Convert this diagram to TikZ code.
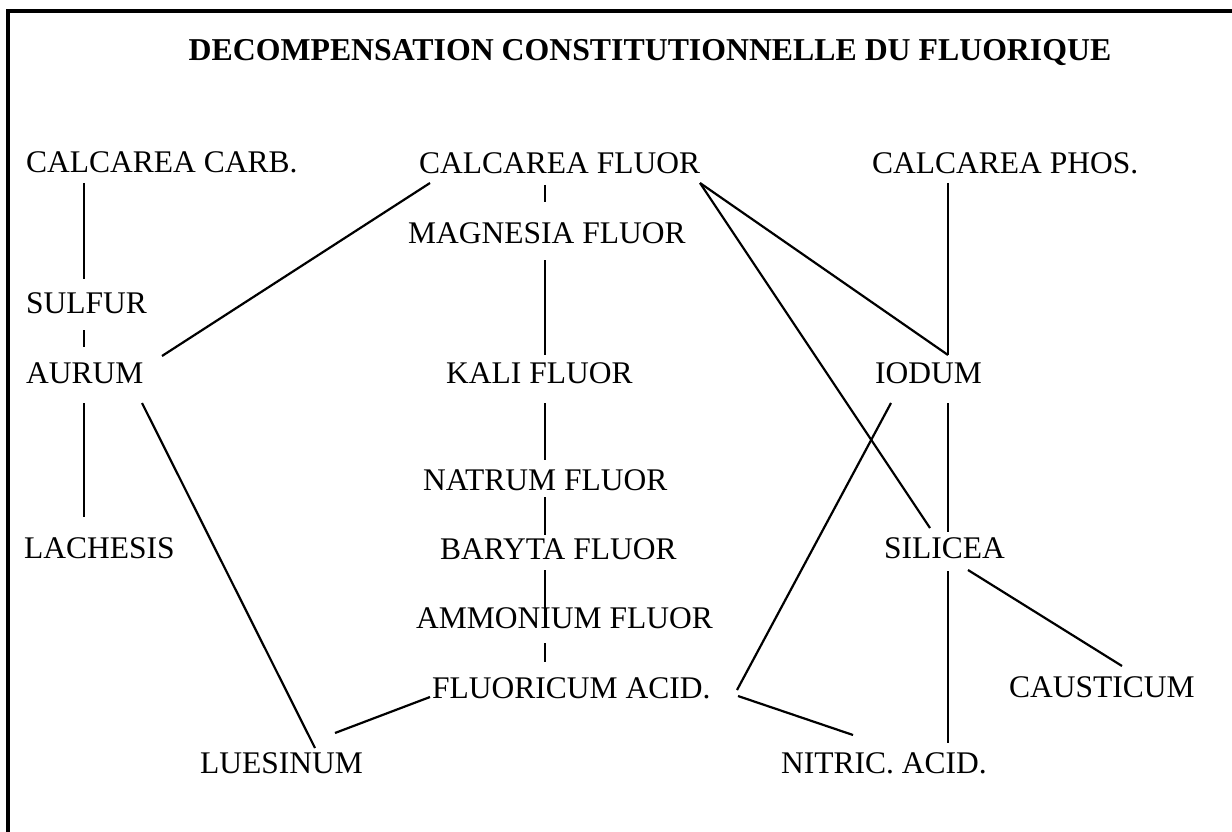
\documentclass[tikz,border=0pt]{standalone}
\usepackage{fontspec}
\setmainfont{Liberation Serif}
\begin{document}
\begin{tikzpicture}[x=1pt,y=-1pt,
  lbl/.style={anchor=base west,inner sep=0pt,font=\fontsize{31.5}{36}\selectfont},
  ttl/.style={anchor=base,inner sep=0pt,font=\fontsize{31.8}{36}\selectfont\bfseries},
  link/.style={line width=2.2pt,line cap=butt}]
\useasboundingbox (0,0) rectangle (1232,832);
% frame
\draw[line width=3.2pt] (8,900) -- (8,11) -- (1300,11);

% title
\node[ttl] (title) at (650,61) {DECOMPENSATION CONSTITUTIONNELLE DU FLUORIQUE};

% remedies
\node[lbl] (ccarb) at (26,173) {CALCAREA CARB.};
\node[lbl] (cfluor) at (419,174) {CALCAREA FLUOR};
\node[lbl] (cphos) at (872,174) {CALCAREA PHOS.};
\node[lbl] (mgfl) at (408,243) {MAGNESIA FLUOR};
\node[lbl] (sulf) at (26,313) {SULFUR};
\node[lbl] (aur) at (26,383) {AURUM};
\node[lbl] (kali) at (446,383) {KALI FLUOR};
\node[lbl] (iod) at (875,383) {IODUM};
\node[lbl] (natr) at (423,490) {NATRUM FLUOR};
\node[lbl] (lach) at (24,558) {LACHESIS};
\node[lbl] (bary) at (440,559) {BARYTA FLUOR};
\node[lbl] (sil) at (884,558) {SILICEA};
\node[lbl] (ammo) at (416,628) {AMMONIUM FLUOR};
\node[lbl] (fac) at (432,698) {FLUORICUM ACID.};
\node[lbl] (caus) at (1009,697) {CAUSTICUM};
\node[lbl] (lues) at (200,773) {LUESINUM};
\node[lbl] (nitr) at (781,773) {NITRIC. ACID.};

% connector ends
\coordinate (ccarb-s) at (84,183);
\coordinate (sulf-n) at (84,279);
\coordinate (sulf-s) at (84,330);
\coordinate (aur-n) at (84,347);
\coordinate (aur-s) at (84,403);
\coordinate (lach-n) at (84,517);
\coordinate (aur-ne) at (162,356);
\coordinate (aur-se) at (142,403);
\coordinate (cfluor-sw) at (430,183);
\coordinate (cfluor-se) at (700,183);
\coordinate (cfluor-s) at (545,185);
\coordinate (mgfl-n) at (545,202);
\coordinate (mgfl-s) at (545,260);
\coordinate (kali-n) at (545,355);
\coordinate (kali-s) at (545,403);
\coordinate (natr-n) at (545,460);
\coordinate (natr-s) at (545,497);
\coordinate (bary-n) at (545,535);
\coordinate (bary-s) at (545,570);
\coordinate (ammo-n) at (545,622);
\coordinate (ammo-s) at (545,643);
\coordinate (fac-n) at (545,662);
\coordinate (fac-w) at (430,697);
\coordinate (fac-ne) at (737,690);
\coordinate (fac-e) at (738,696);
\coordinate (lues-ne) at (335,733);
\coordinate (lues-n) at (315,748);
\coordinate (cphos-s) at (948,183);
\coordinate (iod-n) at (948,355);
\coordinate (iod-sw) at (891,403);
\coordinate (iod-s) at (948,403);
\coordinate (sil-nw) at (930,528);
\coordinate (sil-n) at (948,532);
\coordinate (sil-s) at (948,571);
\coordinate (sil-se) at (968,570);
\coordinate (caus-n) at (1122,666);
\coordinate (nitr-n) at (948,743);
\coordinate (nitr-nw) at (853,735);

% left column
\draw[link] (ccarb-s) -- (sulf-n);
\draw[link] (sulf-s) -- (aur-n);
\draw[link] (aur-s) -- (lach-n);
\draw[link] (cfluor-sw) -- (aur-ne);
\draw[link] (aur-se) -- (lues-n);
\draw[link] (fac-w) -- (lues-ne);

% fluor column
\draw[link] (cfluor-s) -- (mgfl-n);
\draw[link] (mgfl-s) -- (kali-n);
\draw[link] (kali-s) -- (natr-n);
\draw[link] (natr-s) -- (bary-n);
\draw[link] (bary-s) -- (ammo-n);
\draw[link] (ammo-s) -- (fac-n);

% right column
\draw[link] (cfluor-se) -- (iod-n);
\draw[link] (cfluor-se) -- (sil-nw);
\draw[link] (cphos-s) -- (iod-n);
\draw[link] (iod-sw) -- (fac-ne);
\draw[link] (fac-e) -- (nitr-nw);
\draw[link] (iod-s) -- (sil-n);
\draw[link] (sil-s) -- (nitr-n);
\draw[link] (sil-se) -- (caus-n);
\end{tikzpicture}
\end{document}
